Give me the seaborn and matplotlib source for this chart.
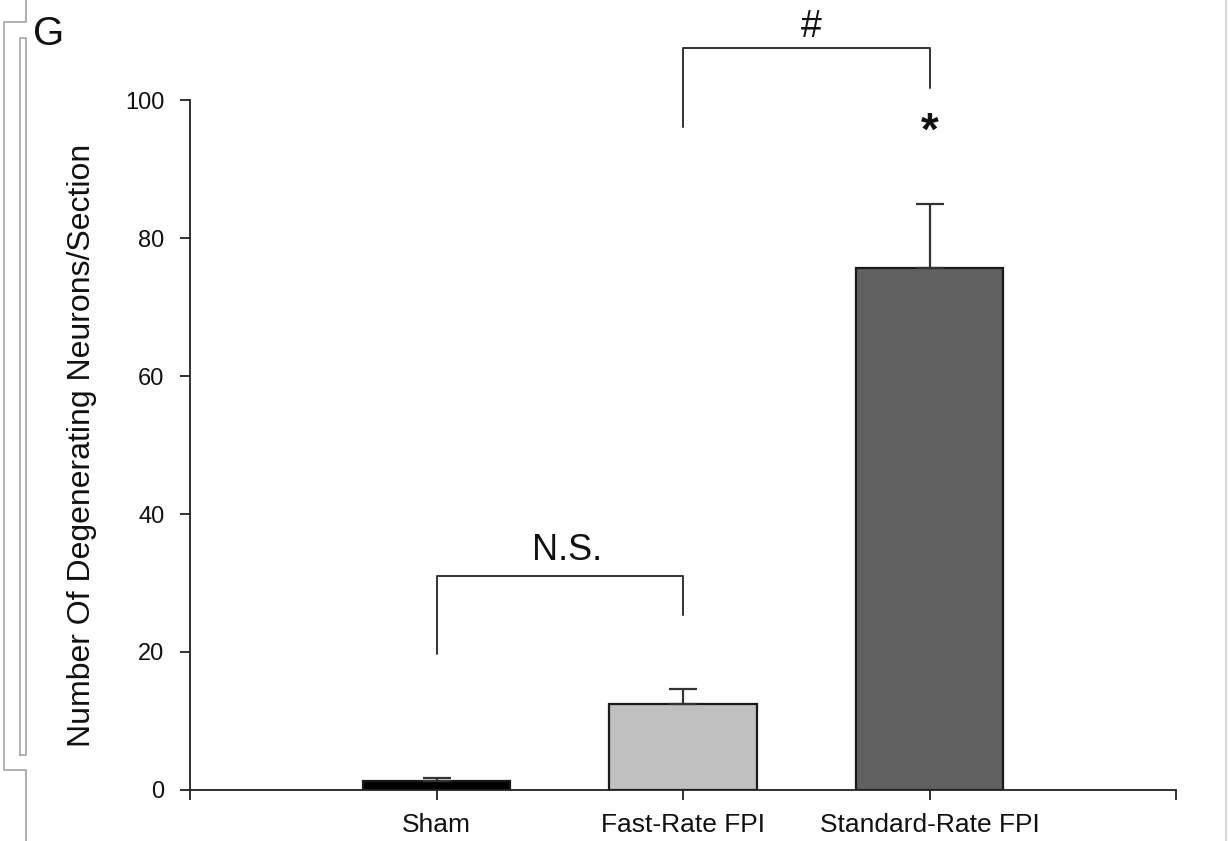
import matplotlib
matplotlib.use("Agg")
import matplotlib.pyplot as plt
from matplotlib.lines import Line2D
import seaborn as sns
import pandas as pd

# Data
categories = ["Sham", "Fast-Rate FPI", "Standard-Rate FPI"]
means = [1.3, 12.5, 75.6]
sems = [0.4, 2.1, 9.3]
bar_colors = ["#000000", "#c0c0c0", "#606060"]
ytick_values = [0, 20, 40, 60, 80, 100]

sns.set_theme(style="white")
plt.rcParams["font.family"] = ["Liberation Sans", "DejaVu Sans"]

W, H = 1228, 841
fig = plt.figure(figsize=(W / 100, H / 100), dpi=100)
ax = fig.add_axes([190 / W, 1 - 790 / H, (1176 - 190) / W, (790 - 100) / H])

df = pd.DataFrame({"group": categories, "value": means})
sns.barplot(data=df, x="group", y="value", hue="group", palette=bar_colors,
            order=categories, hue_order=categories, errorbar=None, width=0.6,
            edgecolor="#1a1a1a", linewidth=1.6, legend=False, ax=ax)

ax.errorbar(range(len(categories)), means, yerr=[[0] * 3, sems], fmt="none",
            ecolor="#333333", elinewidth=1.6, capsize=10, capthick=1.6, zorder=3)

ax.set_xlim(-1, 3)
ax.set_ylim(0, 100)
ax.set_yticks(ytick_values)
ax.set_xticks(range(len(categories)))
ax.set_xticklabels(categories, fontsize=19)
ax.set_xticks([-1, 3], minor=True)
ax.tick_params(axis="y", labelsize=17, direction="out", length=7.5, width=1.3,
               color="#222222", left=True, pad=11, labelcolor="#111111")
ax.tick_params(axis="x", which="both", direction="out", length=7.5, width=1.3,
               color="#222222", bottom=True, pad=9, labelcolor="#111111")
ax.set_xlabel("")
ax.set_ylabel("Number Of Degenerating Neurons/Section", fontsize=23, labelpad=20,
              color="#111111")
for s in ["top", "right"]:
    ax.spines[s].set_visible(False)
for s in ["left", "bottom"]:
    ax.spines[s].set_color("#222222")
    ax.spines[s].set_linewidth(1.3)

# Significance brackets
bk = dict(color="#333333", lw=1.4, clip_on=False)
ax.plot([0, 0, 1, 1], [19.7, 31.0, 31.0, 25.4], **bk)
ax.text(0.53, 32.2, "N.S.", ha="center", va="bottom", fontsize=26, color="#111111")
ax.plot([1, 1, 2, 2], [96.1, 107.5, 107.5, 101.7], **bk)
ax.text(1.52, 107.9, "#", ha="center", va="bottom", fontsize=27, color="#111111")
ax.text(2, 92.0, "*", ha="center", va="bottom", fontsize=33, fontweight="bold",
        color="#111111")

# Panel letter
fig.text(33 / W, 1 - 45 / H, "G", fontsize=29, ha="left", va="baseline", color="#111111")

# Decorative border lines (from screenshot frame)
def fline(xs, ys, **kw):
    fig.add_artist(Line2D([x / W for x in xs], [1 - y / H for y in ys],
                          transform=fig.transFigure, color="#aaaaaa", lw=1.3, **kw))

fline([26, 26, 4, 4, 26, 26], [0, 22, 22, 770, 770, 841])
fline([20, 20, 26, 26, 20], [755, 38, 38, 755, 755])
fline([1226, 1226], [0, 841], alpha=0.5)

fig.savefig("out.png", dpi=100, facecolor="white")
